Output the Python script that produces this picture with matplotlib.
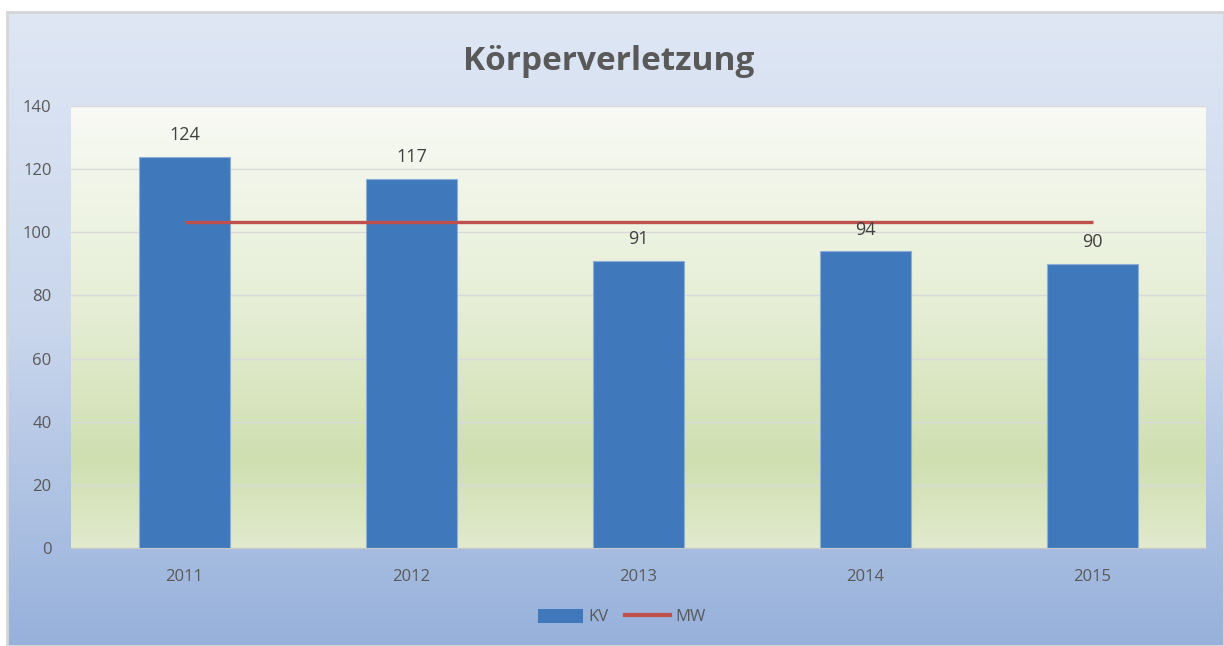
import numpy as np
import matplotlib
matplotlib.use("Agg")
import matplotlib.pyplot as plt
from matplotlib.colors import LinearSegmentedColormap
from matplotlib.patches import Rectangle, Patch
from matplotlib.lines import Line2D

plt.rcParams['font.family'] = ['Open Sans', 'DejaVu Sans']

years = ['2011', '2012', '2013', '2014', '2015']
kv = [124, 117, 91, 94, 90]
mw = [103.2, 103.2, 103.2, 103.2, 103.2]

W, H = 1224, 646
fig = plt.figure(figsize=(W / 100, H / 100), dpi=100)
fig.patch.set_facecolor('white')

# chart area background (blue gradient)
bg = fig.add_axes([7 / W, 0, 1 - 7 / W, (H - 12) / H], zorder=0)
bg_cmap = LinearSegmentedColormap.from_list('bg', ['#DFE7F4', '#C9D6EC', '#97B1DB'])
bg.imshow(np.linspace(0, 1, 256).reshape(-1, 1), aspect='auto', cmap=bg_cmap,
          extent=[0, 1, 0, 1], origin='upper')
bg.set_xlim(0, 1)
bg.set_ylim(0, 1)
bg.axis('off')
bg.add_patch(Rectangle((0, 0), 1, 1, transform=bg.transAxes, fill=False,
                       edgecolor='#D6D6D6', lw=2, clip_on=False))

ax = fig.add_axes([71 / W, (H - 548) / H, 1135 / W, 442 / H], zorder=1)
x = np.arange(len(years))
ax.set_xlim(-0.5, len(years) - 0.5)
ax.set_ylim(0, 140)

# plot area gradient (green)
pa_cmap = LinearSegmentedColormap.from_list(
    'pa', [(0, '#F8FAF4'), (0.45, '#E6EED6'), (0.8, '#CFDFB0'), (1.0, '#E1EACD')])
ax.imshow(np.linspace(0, 1, 256).reshape(-1, 1), aspect='auto', cmap=pa_cmap,
          extent=[-0.5, len(years) - 0.5, 0, 140], origin='upper', zorder=0)

ax.set_yticks(np.arange(0, 141, 20))
ax.grid(axis='y', color='#D9D9D9', lw=1, zorder=1)
ax.set_axisbelow(True)

bars = ax.bar(x, kv, width=0.4, color='#3F79BB', edgecolor='#8EAEDA', lw=0.8, zorder=2)
ax.plot(x, mw, color='#C0504D', lw=2.4, zorder=3, solid_capstyle='butt')

for xi, v in zip(x, kv):
    ax.annotate(str(v), (xi, v), xytext=(0, 9), textcoords='offset points',
                ha='center', va='bottom', fontsize=13, color='#404040')

ax.set_xticks(x)
ax.set_xticklabels(years)
ax.tick_params(axis='both', length=0, labelsize=12, labelcolor='#595959')
ax.tick_params(axis='x', pad=15)
ax.tick_params(axis='y', pad=14)
for s in ['top', 'right', 'left']:
    ax.spines[s].set_visible(False)
ax.spines['bottom'].set_color('#C8C8C8')
ax.spines['bottom'].set_zorder(4)

fig.text(609 / W, 1 - 62 / H, 'Körperverletzung', ha='center', va='center',
         fontsize=24, fontweight='bold', color='#595959')

handles = [Patch(facecolor='#3F79BB', edgecolor='none'),
           Line2D([0], [0], color='#C0504D', lw=3)]
fig.legend(handles, ['KV', 'MW'], loc='center', bbox_to_anchor=(622 / W, 1 - 617 / H),
           ncol=2, frameon=False, fontsize=12, labelcolor='#595959',
           handlelength=2.7, handleheight=0.9, handletextpad=0.3, columnspacing=1.0)

fig.savefig('out.png', dpi=100)
